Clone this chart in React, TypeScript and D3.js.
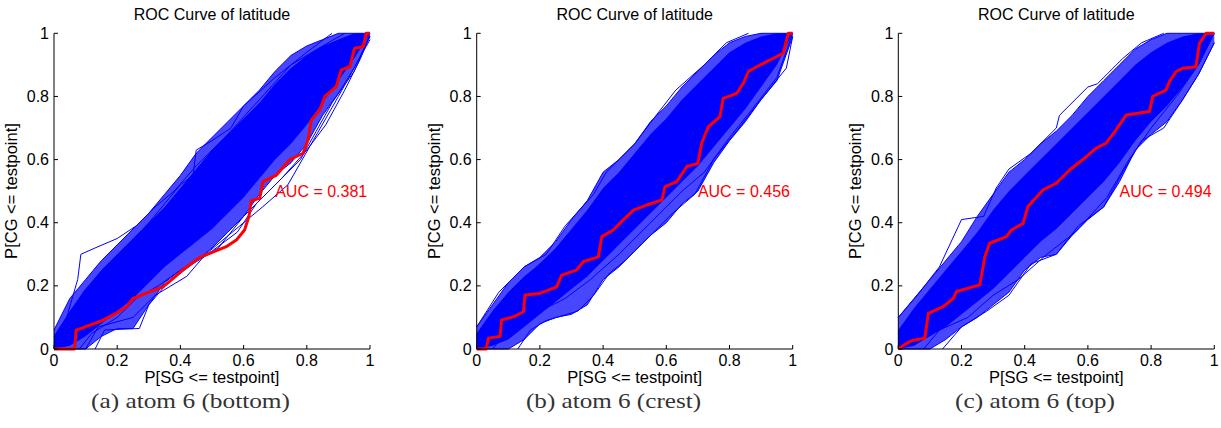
import React from 'react';
import * as d3 from 'd3';

// grid of false-positive rates used for the band envelopes
const gridX = [0, 0.05, 0.1, 0.15, 0.2, 0.25, 0.3, 0.35, 0.4, 0.45, 0.5, 0.55, 0.6, 0.65, 0.7, 0.75, 0.8, 0.85, 0.9, 0.95, 1];

// panel (a) atom 6 (bottom)
const outerHiA = [0.06, 0.16, 0.22, 0.28, 0.33, 0.38, 0.43, 0.49, 0.55, 0.62, 0.67, 0.72, 0.77, 0.82, 0.88, 0.93, 0.96, 0.98, 1, 1, 1];
const coreHiA = [0.04, 0.12, 0.19, 0.25, 0.3, 0.35, 0.4, 0.45, 0.51, 0.57, 0.63, 0.68, 0.73, 0.78, 0.84, 0.89, 0.93, 0.96, 0.98, 1, 1];
const coreLoA = [0, 0.01, 0.04, 0.08, 0.12, 0.16, 0.21, 0.26, 0.3, 0.34, 0.38, 0.43, 0.48, 0.54, 0.6, 0.65, 0.71, 0.78, 0.85, 0.92, 1];
const outerLoA = [0, 0, 0, 0.04, 0.065, 0.065, 0.14, 0.21, 0.25, 0.28, 0.32, 0.37, 0.42, 0.49, 0.55, 0.59, 0.65, 0.74, 0.81, 0.89, 0.99];
const curvesA = [
  [[0, 0.02], [0.04, 0.1], [0.075, 0.22], [0.085, 0.3], [0.13, 0.32], [0.2, 0.35], [0.26, 0.39], [0.32, 0.45], [0.38, 0.5], [0.45, 0.58], [0.55, 0.68], [0.65, 0.79], [0.75, 0.9], [0.85, 0.96], [0.92, 1]],
  [[0, 0.04], [0.1, 0.19], [0.2, 0.29], [0.3, 0.4], [0.4, 0.52], [0.44, 0.55], [0.45, 0.63], [0.5, 0.66], [0.56, 0.7], [0.6, 0.77], [0.7, 0.86], [0.8, 0.94], [0.88, 1]],
  [[0.13, 0], [0.16, 0.06], [0.27, 0.065], [0.3, 0.14], [0.36, 0.21], [0.44, 0.27], [0.52, 0.32], [0.6, 0.42], [0.68, 0.5], [0.78, 0.6], [0.83, 0.69], [0.88, 0.78], [0.95, 0.88], [1, 0.99]],
  [[0.08, 0], [0.12, 0.05], [0.2, 0.1], [0.26, 0.16], [0.33, 0.2], [0.4, 0.25], [0.5, 0.31], [0.58, 0.37], [0.64, 0.46], [0.72, 0.54], [0.8, 0.63], [0.86, 0.71], [0.92, 0.82], [0.97, 0.92], [1, 1]],
  [[0.1, 0], [0.14, 0.07], [0.25, 0.1], [0.32, 0.17], [0.42, 0.23], [0.48, 0.3], [0.6, 0.4], [0.66, 0.45], [0.74, 0.52], [0.82, 0.66], [0.9, 0.8], [1, 0.98]],
];
const redA = [[0, 0], [0.065, 0], [0.07, 0.06], [0.145, 0.087], [0.187, 0.108], [0.229, 0.134], [0.25, 0.16], [0.29, 0.176], [0.345, 0.197], [0.377, 0.224], [0.419, 0.26], [0.461, 0.29], [0.545, 0.324], [0.577, 0.345], [0.603, 0.377], [0.617, 0.42], [0.624, 0.47], [0.651, 0.477], [0.661, 0.53], [0.704, 0.551], [0.746, 0.6], [0.788, 0.62], [0.804, 0.662], [0.814, 0.725], [0.841, 0.757], [0.857, 0.8], [0.893, 0.831], [0.909, 0.884], [0.936, 0.894], [0.951, 0.952], [0.978, 0.958], [0.988, 1], [1, 1]];

// panel (b) atom 6 (crest)
const outerHiB = [0.07, 0.14, 0.21, 0.26, 0.29, 0.34, 0.41, 0.47, 0.56, 0.6, 0.65, 0.72, 0.77, 0.83, 0.88, 0.93, 0.97, 0.99, 1, 1, 1];
const coreHiB = [0.05, 0.12, 0.18, 0.23, 0.27, 0.32, 0.38, 0.44, 0.51, 0.56, 0.62, 0.68, 0.73, 0.79, 0.84, 0.89, 0.94, 0.97, 0.99, 1, 1];
const coreLoB = [0, 0.01, 0.03, 0.07, 0.11, 0.15, 0.19, 0.23, 0.28, 0.33, 0.38, 0.43, 0.48, 0.53, 0.58, 0.64, 0.7, 0.76, 0.83, 0.9, 1];
const outerLoB = [0, 0, 0, 0.03, 0.08, 0.1, 0.11, 0.14, 0.22, 0.26, 0.31, 0.36, 0.4, 0.46, 0.5, 0.59, 0.66, 0.72, 0.79, 0.85, 0.99];
const curvesB = [
  [[0, 0.07], [0.07, 0.18], [0.15, 0.26], [0.22, 0.3], [0.28, 0.39], [0.37, 0.49], [0.41, 0.56], [0.5, 0.65], [0.56, 0.73], [0.63, 0.82], [0.72, 0.9], [0.79, 0.97], [0.86, 1]],
  [[0.13, 0], [0.17, 0.06], [0.22, 0.09], [0.32, 0.12], [0.37, 0.17], [0.42, 0.24], [0.47, 0.28], [0.56, 0.37], [0.62, 0.43], [0.69, 0.49], [0.75, 0.6], [0.83, 0.7], [0.9, 0.79], [0.94, 0.84], [0.98, 0.89], [1, 0.99]],
  [[0.05, 0], [0.1, 0.06], [0.2, 0.12], [0.28, 0.16], [0.36, 0.22], [0.45, 0.3], [0.55, 0.4], [0.65, 0.5], [0.72, 0.56], [0.8, 0.67], [0.88, 0.77], [0.95, 0.86], [1, 1]],
  [[0, 0.03], [0.1, 0.17], [0.2, 0.27], [0.3, 0.36], [0.4, 0.47], [0.5, 0.58], [0.6, 0.69], [0.7, 0.8], [0.8, 0.9], [0.9, 0.97], [1, 1]],
];
const redB = [[0, 0], [0.03, 0], [0.037, 0.034], [0.074, 0.04], [0.079, 0.092], [0.116, 0.102], [0.148, 0.118], [0.153, 0.171], [0.2, 0.176], [0.253, 0.197], [0.269, 0.234], [0.316, 0.25], [0.338, 0.277], [0.385, 0.292], [0.396, 0.356], [0.432, 0.377], [0.464, 0.409], [0.496, 0.44], [0.538, 0.456], [0.586, 0.472], [0.596, 0.514], [0.633, 0.53], [0.665, 0.578], [0.7, 0.588], [0.712, 0.652], [0.733, 0.704], [0.77, 0.736], [0.78, 0.794], [0.823, 0.81], [0.844, 0.842], [0.86, 0.879], [0.886, 0.894], [0.939, 0.921], [0.97, 0.937], [0.986, 1], [1, 1]];

// panel (c) atom 6 (top)
const outerHiC = [0.1, 0.16, 0.22, 0.28, 0.34, 0.42, 0.49, 0.56, 0.6, 0.65, 0.69, 0.74, 0.8, 0.85, 0.9, 0.95, 0.98, 1, 1, 1, 1];
const coreHiC = [0.06, 0.13, 0.19, 0.25, 0.31, 0.37, 0.44, 0.5, 0.55, 0.6, 0.65, 0.7, 0.75, 0.8, 0.85, 0.9, 0.94, 0.97, 0.99, 1, 1];
const coreLoC = [0, 0.01, 0.04, 0.07, 0.11, 0.15, 0.19, 0.24, 0.29, 0.34, 0.38, 0.43, 0.48, 0.53, 0.59, 0.66, 0.72, 0.77, 0.83, 0.9, 1];
const outerLoC = [0, 0, 0, 0.03, 0.07, 0.1, 0.14, 0.18, 0.25, 0.29, 0.3, 0.36, 0.41, 0.45, 0.53, 0.63, 0.68, 0.72, 0.79, 0.87, 0.97];
const curvesC = [
  [[0, 0.1], [0.06, 0.17], [0.13, 0.26], [0.2, 0.41], [0.27, 0.42], [0.31, 0.51], [0.35, 0.57], [0.42, 0.62], [0.5, 0.7], [0.51, 0.74], [0.6, 0.83], [0.63, 0.84], [0.71, 0.92], [0.77, 0.97], [0.84, 1]],
  [[0.14, 0], [0.2, 0.07], [0.28, 0.12], [0.35, 0.17], [0.42, 0.27], [0.5, 0.3], [0.57, 0.39], [0.65, 0.45], [0.71, 0.56], [0.77, 0.66], [0.84, 0.7], [0.9, 0.79], [0.95, 0.87], [1, 0.97]],
  [[0.08, 0], [0.13, 0.06], [0.22, 0.1], [0.3, 0.17], [0.38, 0.22], [0.47, 0.3], [0.56, 0.37], [0.66, 0.48], [0.73, 0.6], [0.8, 0.7], [0.88, 0.8], [0.95, 0.9], [1, 1]],
  [[0, 0.05], [0.1, 0.18], [0.2, 0.29], [0.3, 0.4], [0.4, 0.5], [0.5, 0.61], [0.6, 0.72], [0.7, 0.81], [0.8, 0.9], [0.9, 0.97], [1, 1]],
];
const redC = [[0, 0], [0.026, 0.018], [0.047, 0.028], [0.084, 0.034], [0.095, 0.113], [0.142, 0.134], [0.174, 0.16], [0.184, 0.182], [0.258, 0.203], [0.274, 0.292], [0.289, 0.335], [0.342, 0.356], [0.358, 0.377], [0.395, 0.398], [0.41, 0.451], [0.458, 0.504], [0.5, 0.525], [0.542, 0.567], [0.595, 0.609], [0.626, 0.636], [0.658, 0.652], [0.689, 0.694], [0.721, 0.741], [0.795, 0.752], [0.805, 0.8], [0.847, 0.82], [0.858, 0.847], [0.879, 0.879], [0.9, 0.889], [0.942, 0.894], [0.953, 0.968], [0.974, 1], [1, 1]];

const aucLabels = ['AUC = 0.381', 'AUC = 0.456', 'AUC = 0.494'];
const captions = ['(a) atom 6 (bottom)', '(b) atom 6 (crest)', '(c) atom 6 (top)'];
const ticks = [0, 0.2, 0.4, 0.6, 0.8, 1];

const panels = [
  { left: 54, cap: [190.5, 199], outerHi: outerHiA, coreHi: coreHiA, coreLo: coreLoA, outerLo: outerLoA, curves: curvesA, red: redA },
  { left: 476.7, cap: [613.5, 175], outerHi: outerHiB, coreHi: coreHiB, coreLo: coreLoB, outerLo: outerLoB, curves: curvesB, red: redB },
  { left: 898.3, cap: [1035, 160], outerHi: outerHiC, coreHi: coreHiC, coreLo: coreLoC, outerLo: outerLoC, curves: curvesC, red: redC },
];

const W = 316;
const TOP = 33.3;
const BOTTOM = 349;
const BLUE = '#0000ff';
const SANS = '"Liberation Sans", Arial, Helvetica, sans-serif';

function Panel({ p, i }: { p: any; i: number }) {
  const x = d3.scaleLinear().domain([0, 1]).range([p.left, p.left + W]);
  const y = d3.scaleLinear().domain([0, 1]).range([BOTTOM, TOP]);
  const band = (hi: number[], lo: number[]) =>
    d3.area<number>().x((_, j) => x(gridX[j])).y0((_, j) => y(lo[j])).y1((d) => y(d))(hi) || '';
  const edge = (vals: number[]) => d3.line<number>().x((_, j) => x(gridX[j])).y((d) => y(d))(vals) || '';
  const line = d3.line<number[]>().x((d) => x(d[0])).y((d) => y(d[1]));
  const cx = p.left + W / 2;
  return (
    <g>
      <path d={band(p.outerHi, p.outerLo)} fill={BLUE} fillOpacity={0.72} />
      <path d={band(p.coreHi, p.coreLo)} fill={BLUE} />
      <path d={edge(p.outerHi)} fill="none" stroke={BLUE} strokeWidth={1} />
      <path d={edge(p.outerLo)} fill="none" stroke={BLUE} strokeWidth={1} />
      {p.curves.map((c: number[][], k: number) => (
        <path key={k} d={line(c) || ''} fill="none" stroke={BLUE} strokeWidth={1} />
      ))}
      <path d={line(p.red) || ''} fill="none" stroke="#ff0000" strokeWidth={3} strokeLinejoin="round" />
      <text x={x(0.7)} y={y(0.5)} dy="0.35em" fill="#ff0000" fontSize={16} fontFamily={SANS}>{aucLabels[i]}</text>
      {/* axes */}
      <line x1={x(0)} x2={x(0)} y1={y(0)} y2={y(1)} stroke="#000" />
      <line x1={x(0)} x2={x(1)} y1={y(0)} y2={y(0)} stroke="#000" />
      {ticks.map((t) => (
        <g key={'x' + t}>
          <line x1={x(t)} x2={x(t)} y1={y(0)} y2={y(0) - 4} stroke="#000" />
          <text x={x(t)} y={366} textAnchor="middle" fontSize={16} fontFamily={SANS}>{String(t)}</text>
          <line x1={x(0)} x2={x(0) + 4} y1={y(t)} y2={y(t)} stroke="#000" />
          <text x={x(0) - 5} y={y(t)} dy="0.35em" textAnchor="end" fontSize={16} fontFamily={SANS}>{String(t)}</text>
        </g>
      ))}
      <text x={cx} y={20} textAnchor="middle" fontSize={16} fontFamily={SANS}>ROC Curve of latitude</text>
      <text x={cx} y={383} textAnchor="middle" fontSize={16.5} fontFamily={SANS}>P[SG &lt;= testpoint]</text>
      <text transform={`translate(${p.left - 37},${191}) rotate(-90)`} textAnchor="middle" fontSize={16.5} fontFamily={SANS}>P[CG &lt;= testpoint]</text>
      <text x={p.cap[0]} y={408} textAnchor="middle" fontSize={21} fill="#333" fontFamily='"Liberation Serif", "Times New Roman", serif'
        textLength={p.cap[1]} lengthAdjust="spacingAndGlyphs">{captions[i]}</text>
    </g>
  );
}

export default function App() {
  return (
    <svg width={1221} height={428} style={{ position: 'absolute', left: 0, top: 0, background: '#fff' }}>
      {panels.map((p, i) => <Panel key={i} p={p} i={i} />)}
    </svg>
  );
}
